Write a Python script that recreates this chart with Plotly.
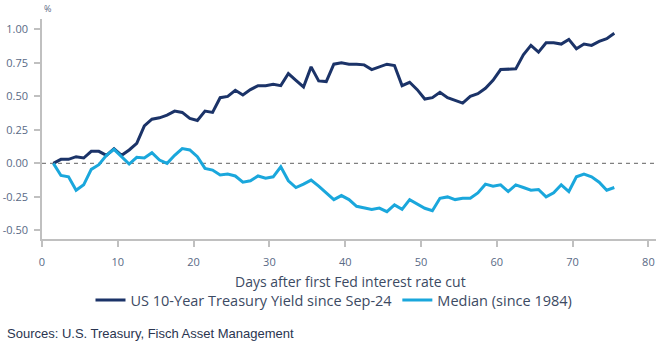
import plotly.graph_objects as go

# Days after first Fed cut (x positions of observations)
days = [i + 0.5 for i in range(1, 76)]

us10y = [0.00, 0.03, 0.03, 0.05, 0.04, 0.09, 0.09, 0.06, 0.11, 0.06,
         0.10, 0.15, 0.28, 0.33, 0.34, 0.36, 0.39, 0.38, 0.335, 0.32,
         0.39, 0.38, 0.49, 0.50, 0.545, 0.51, 0.55, 0.58, 0.58, 0.59,
         0.58, 0.67, 0.62, 0.57, 0.72, 0.615, 0.61, 0.74, 0.75, 0.74,
         0.74, 0.735, 0.70, 0.72, 0.74, 0.73, 0.58, 0.605, 0.55, 0.48,
         0.49, 0.53, 0.49, 0.47, 0.45, 0.50, 0.52, 0.56, 0.62, 0.70,
         0.70, 0.705, 0.81, 0.88, 0.83, 0.90, 0.90, 0.89, 0.925, 0.855,
         0.89, 0.88, 0.91, 0.93, 0.97]

median = [0.00, -0.09, -0.10, -0.20, -0.16, -0.045, -0.01, 0.06, 0.105, 0.05,
          -0.005, 0.045, 0.04, 0.08, 0.025, 0.00, 0.06, 0.11, 0.10, 0.05,
          -0.037, -0.05, -0.087, -0.08, -0.094, -0.14, -0.13, -0.094, -0.11, -0.10,
          -0.025, -0.13, -0.18, -0.155, -0.125, -0.17, -0.22, -0.27, -0.24, -0.27,
          -0.32, -0.333, -0.343, -0.333, -0.36, -0.31, -0.343, -0.27, -0.305, -0.335,
          -0.353, -0.26, -0.25, -0.27, -0.26, -0.26, -0.22, -0.155, -0.17, -0.16,
          -0.21, -0.16, -0.18, -0.20, -0.195, -0.25, -0.22, -0.16, -0.21, -0.10,
          -0.08, -0.10, -0.14, -0.20, -0.18]

y_tickvals = [-0.50, -0.25, 0.00, 0.25, 0.50, 0.75, 1.00]
y_ticktext = ["-0.50", "-0.25", "0.00", "0.25", "0.50", "0.75", "1.00"]
x_tickvals = [0, 10, 20, 30, 40, 50, 60, 70, 80]

DARK = "#1b3368"
LIGHT = "#1aa7dc"
TXT = "#596a86"
AX = "#c0c0c0"
FONT = "Open Sans"

W, H = 668, 351
ML, MR, MT, MB = 42, 12, 19, 112
PW, PH = W - ML - MR, H - MT - MB

fig = go.Figure()
fig.add_trace(go.Scatter(x=days, y=us10y, mode="lines",
                         name="US 10-Year Treasury Yield since Sep-24",
                         line=dict(color=DARK, width=3)))
fig.add_trace(go.Scatter(x=days, y=median, mode="lines",
                         name="Median (since 1984)",
                         line=dict(color=LIGHT, width=3)))

fig.add_shape(type="line", xref="paper", yref="y", x0=0, x1=1, y0=0, y1=0,
              line=dict(color="#808080", width=1.3, dash="4px,4px"), layer="below")

fig.update_layout(
    width=W, height=H,
    margin=dict(l=ML, r=MR, t=MT, b=MB),
    paper_bgcolor="white", plot_bgcolor="white",
    font=dict(family=FONT, color=TXT, size=11),
    showlegend=True,
    legend=dict(orientation="h", xref="container", yref="container",
                x=0.5, xanchor="center", y=1 - 300 / H, yanchor="middle",
                font=dict(size=14.5, color="#3c4a63", family=FONT),
                itemwidth=30, tracegroupgap=0),
    xaxis=dict(range=[0, 81], tickvals=x_tickvals, showgrid=False, zeroline=False,
               automargin=False,
               showline=True, linecolor=AX, linewidth=1.5,
               ticks="outside", ticklen=6, tickcolor=AX, tickwidth=1.5,
               ticklabelstandoff=6,
               tickfont=dict(size=11, color=TXT)),
    yaxis=dict(range=[-0.564, 1.077], tickvals=y_tickvals, ticktext=y_ticktext,
               showgrid=False, zeroline=False, automargin=False,
               showline=True, linecolor=AX, linewidth=1.5,
               ticks="outside", ticklen=6, tickcolor=AX, tickwidth=1.5,
               ticklabelstandoff=4,
               tickfont=dict(size=11, color=TXT)),
    annotations=[
        dict(text="%", xref="paper", yref="paper", x=0.0, y=1.0, xanchor="left",
             yanchor="bottom", showarrow=False, font=dict(size=9, color=TXT), yshift=2),
        dict(text="Days after first Fed interest rate cut",
             xref="paper", yref="paper", x=(350 - ML) / PW, y=(H - MB - 281) / PH,
             xanchor="center", yanchor="middle", showarrow=False,
             font=dict(size=14, color="#3c4a63", family=FONT)),
        dict(text="Sources: U.S. Treasury, Fisch Asset Management",
             xref="paper", yref="paper", x=(5 - ML) / PW, y=(H - MB - 333) / PH,
             xanchor="left", yanchor="middle", showarrow=False,
             font=dict(size=13, color="#2a3550", family="Liberation Sans Narrow, Liberation Sans")),
    ],
)

fig.write_html("out.html")
